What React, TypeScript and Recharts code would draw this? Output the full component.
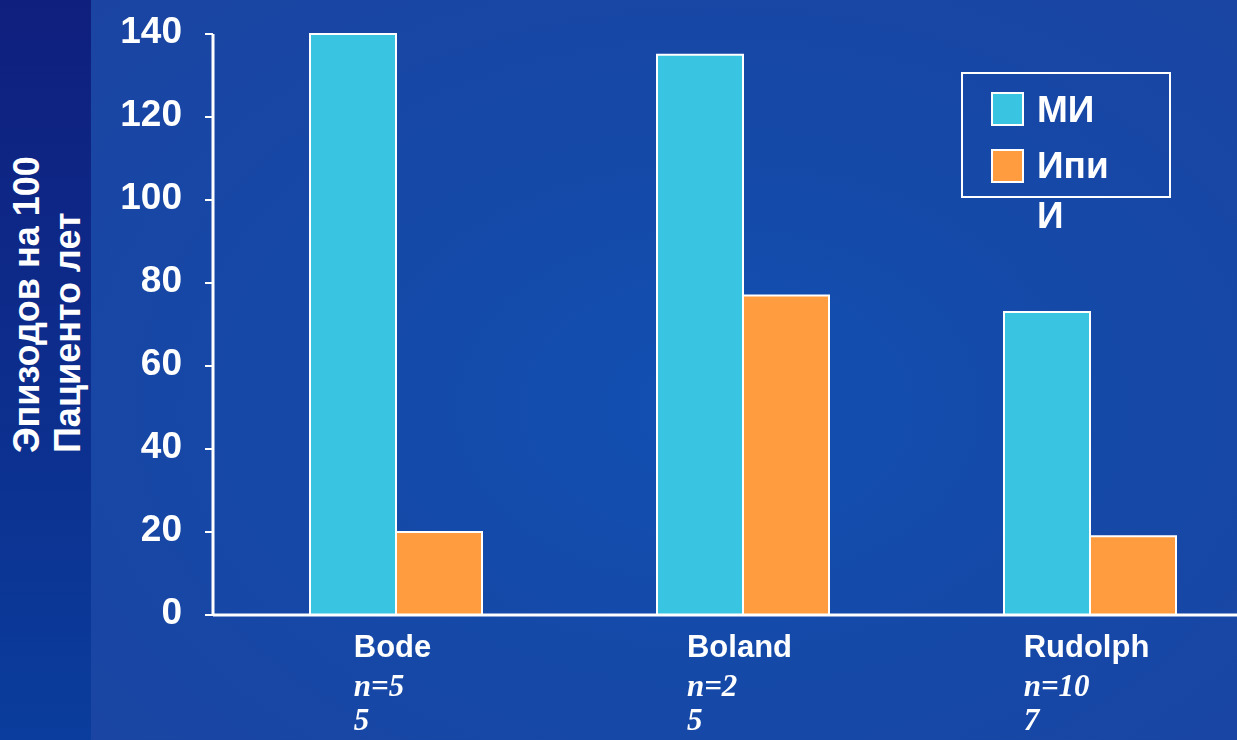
import React from "react";
import { BarChart, Bar, XAxis, YAxis, Label } from "recharts";

const studies = ["Bode", "Boland", "Rudolph"];
// sample sizes, wrapped onto two lines under each study name
const sampleLines = [
  ["n=5", "5"],
  ["n=2", "5"],
  ["n=10", "7"],
];
const miValues = [140, 135, 73];
const ipiValues = [20, 77, 19];
const yTicks = [0, 20, 40, 60, 80, 100, 120, 140];
const seriesNames = ["МИ", "Ипи И"];
const axisTitle = ["Эпизодов на 100", "Пациенто лет"];

const CYAN = "#39c5e1";
const ORANGE = "#ff9c3f";
const SANS = "'Liberation Sans', Arial, sans-serif";
const SERIF = "'Liberation Serif', 'Times New Roman', serif";

const data = studies.map((name, i) => ({
  name,
  mi: miValues[i],
  ipi: ipiValues[i],
  n: sampleLines[i],
}));

let measureCtx: CanvasRenderingContext2D | null = null;
function textWidth(s: string, font: string) {
  if (!measureCtx) measureCtx = document.createElement("canvas").getContext("2d");
  if (!measureCtx) return s.length * 18;
  measureCtx.font = font;
  return measureCtx.measureText(s).width;
}

const YTick = ({ x, y, payload }: any) => (
  <text x={x} y={y + 9} textAnchor="end" fill="#fff" fontFamily={SANS} fontWeight="bold" fontSize={37}>
    {payload.value}
  </text>
);

const XTick = ({ x, y, index }: any) => {
  const d = data[index];
  const cx = x - 3;
  const w = textWidth(d.name, `bold 31px ${SANS}`);
  const left = cx - w / 2;
  return (
    <g>
      <text x={cx} y={y + 42} textAnchor="middle" fill="#fff" fontFamily={SANS} fontWeight="bold" fontSize={31}>
        {d.name}
      </text>
      {d.n.map((line, k) => (
        <text
          key={k}
          x={left}
          y={y + 81 + k * 34}
          fill="#fff"
          fontFamily={SERIF}
          fontStyle="italic"
          fontWeight="bold"
          fontSize={31}
        >
          {line}
        </text>
      ))}
    </g>
  );
};

const AxisTitle = () => (
  <g>
    {axisTitle.map((line, k) => (
      <text
        key={k}
        x={39 + k * 41}
        y={453}
        transform={`rotate(-90 ${39 + k * 41} 453)`}
        fill="#fff"
        fontFamily={SANS}
        fontWeight="bold"
        fontSize={36}
      >
        {line}
      </text>
    ))}
  </g>
);

const LegendBox = () => {
  const colors = [CYAN, ORANGE];
  return (
    <svg width={240} height={180} style={{ position: "absolute", left: 961, top: 72, overflow: "visible" }}>
      <rect x={1} y={1} width={208} height={124} fill="none" stroke="#fff" strokeWidth={2} />
      {seriesNames.map((name, i) => (
        <g key={name}>
          <rect x={31} y={21 + i * 57} width={31} height={32} fill={colors[i]} stroke="#fff" strokeWidth={2} />
          {name.split(" ").map((line, k) => (
            <text
              key={k}
              x={76}
              y={50 + i * 56 + k * 50}
              fill="#fff"
              fontFamily={SANS}
              fontWeight="bold"
              fontSize={37}
            >
              {line}
            </text>
          ))}
        </g>
      ))}
    </svg>
  );
};

export default function App() {
  return (
    <div
      style={{
        position: "fixed",
        left: 0,
        top: 0,
        width: 1237,
        height: 740,
        overflow: "hidden",
        background:
          "radial-gradient(ellipse 70% 80% at 58% 55%, #1150b1 0%, #1549a8 45%, #1b44a2 100%)",
      }}
    >
      <div
        style={{
          position: "absolute",
          left: 0,
          top: 0,
          width: 91,
          height: 740,
          background: "linear-gradient(180deg, #0f1f7e 0%, #0d2d8c 50%, #0a3d9d 100%)",
        }}
      />
      <div style={{ position: "absolute", left: 0, top: 0 }}>
        <BarChart
          width={1263}
          height={740}
          data={data}
          margin={{ top: 34, right: 0, bottom: 0, left: 0 }}
          barGap={0}
          barSize={86}
        >
          <XAxis
            dataKey="name"
            height={125}
            padding={{ left: 9, right: 0 }}
            axisLine={{ stroke: "#fff", strokeWidth: 3 }}
            tickLine={false}
            tickSize={0}
            tickMargin={0}
            tick={<XTick />}
            interval={0}
          />
          <YAxis
            width={213}
            domain={[0, 140]}
            ticks={yTicks}
            interval={0}
            axisLine={{ stroke: "#fff", strokeWidth: 3 }}
            tickLine={{ stroke: "#fff", strokeWidth: 2 }}
            tickSize={8}
            tickMargin={23}
            tick={<YTick />}
          >
            <Label content={<AxisTitle />} />
          </YAxis>
          <Bar dataKey="mi" name={seriesNames[0]} fill={CYAN} stroke="#fff" strokeWidth={2} isAnimationActive={false} />
          <Bar dataKey="ipi" name={seriesNames[1]} fill={ORANGE} stroke="#fff" strokeWidth={2} isAnimationActive={false} />
        </BarChart>
      </div>
      <LegendBox />
    </div>
  );
}
